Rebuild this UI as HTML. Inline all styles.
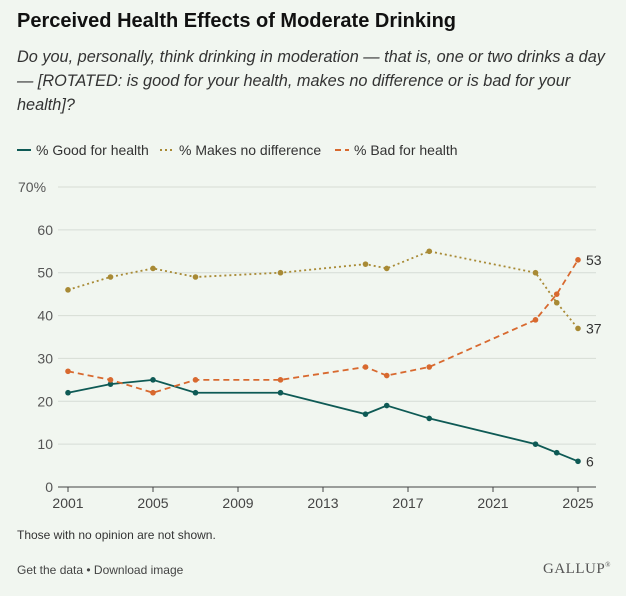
<!DOCTYPE html>
<html><head><meta charset="utf-8"><style>
body{margin:0;background:#f1f6f0;font-family:"Liberation Sans",sans-serif;color:#222;}
#wrap{position:relative;width:626px;height:596px;overflow:hidden;background:#f1f6f0;}
.t{position:absolute;}
</style></head><body>
<div id="wrap">
<div class="t" style="left:17px;top:10px;font-size:20px;font-weight:bold;color:#111;">Perceived Health Effects of Moderate Drinking</div>
<div class="t" style="left:17px;top:45px;width:605px;font-size:16.3px;font-style:italic;line-height:24px;color:#333;">Do you, personally, think drinking in moderation — that is, one or two drinks a day — [ROTATED: is good for your health, makes no difference or is bad for your health]?</div>
<svg id="chart" width="626" height="596" style="position:absolute;left:0;top:0"></svg>
<div class="t" style="left:17px;top:528px;font-size:12px;color:#333;">Those with no opinion are not shown.</div>
<div class="t" style="left:17px;top:563px;font-size:12px;color:#444;">Get the data • Download image</div>
<div class="t" style="left:543px;top:561px;font-size:15px;font-family:'Liberation Serif',serif;color:#555;letter-spacing:0.5px;">GALLUP<sup style="font-size:7px">®</sup></div>
</div>
<script>
const years=[2001,2003,2005,2007,2011,2015,2016,2018,2023,2024,2025];
const good=[22,24,25,22,22,17,19,16,10,8,6];
const noDiff=[46,49,51,49,50,52,51,55,50,43,37];
const bad=[27,25,22,25,25,28,26,28,39,45,53];
const yTicks=[0,10,20,30,40,50,60,70];
const xTicks=[2001,2005,2009,2013,2017,2021,2025];
const NS='http://www.w3.org/2000/svg';
const svg=document.getElementById('chart');
const x=v=>68+(v-2001)*(510/24);
const y=v=>487-v*(300/70);
function mk(t,a){const e=document.createElementNS(NS,t);for(const k in a)e.setAttribute(k,a[k]);svg.appendChild(e);return e;}
yTicks.forEach(v=>{
 const g=mk('line',{x1:58,x2:596,y1:y(v),y2:y(v),stroke:v===0?'#444':'#d6dcd5','stroke-width':1});
 
 
 const t=mk('text',{x:v===70?18:53,y:y(v)+5,'font-size':14,fill:'#555','text-anchor':v===70?'start':'end'});
 t.textContent=v===70?'70%':v;
 
 
});
xTicks.forEach(v=>{
 const l=mk('line',{x1:x(v),x2:x(v),y1:487,y2:492,stroke:'#444'});
 
 
 const t=mk('text',{x:x(v),y:508,'font-size':14,fill:'#444','text-anchor':'middle'});
 t.textContent=v;
 
 
});
const series=[
 {name:'good',vals:good,color:'#0e5a55',dash:'',label:'% Good for health'},
 {name:'no-difference',vals:noDiff,color:'#a88a35',dash:'2,3',label:'% Makes no difference'},
 {name:'bad',vals:bad,color:'#d8692f',dash:'6,4',label:'% Bad for health'}];
series.forEach(s=>{
 const p=mk('polyline',{points:years.map((yr,i)=>x(yr)+','+y(s.vals[i])).join(' '),fill:'none',stroke:s.color,'stroke-width':1.8,'stroke-dasharray':s.dash});
 
 
 years.forEach((yr,i)=>{
  const c=mk('circle',{cx:x(yr),cy:y(s.vals[i]),r:2.8,fill:s.color});
  
  
 });
 const last=s.vals[s.vals.length-1];
 const t=mk('text',{x:x(2025)+8,y:y(last)+5,'font-size':14,fill:'#333'});
 t.textContent=last;
 
 
});
const lx=[17,160,335];
series.forEach((s,i)=>{
 const l=mk('line',{x1:lx[i],x2:lx[i]+14,y1:150,y2:150,stroke:s.color,'stroke-width':2,'stroke-dasharray':s.dash});
 
 
 const t=mk('text',{x:lx[i]+19,y:155,'font-size':14,fill:'#333'});
 t.textContent=s.label;
 
 
});
</script>
</body></html>
